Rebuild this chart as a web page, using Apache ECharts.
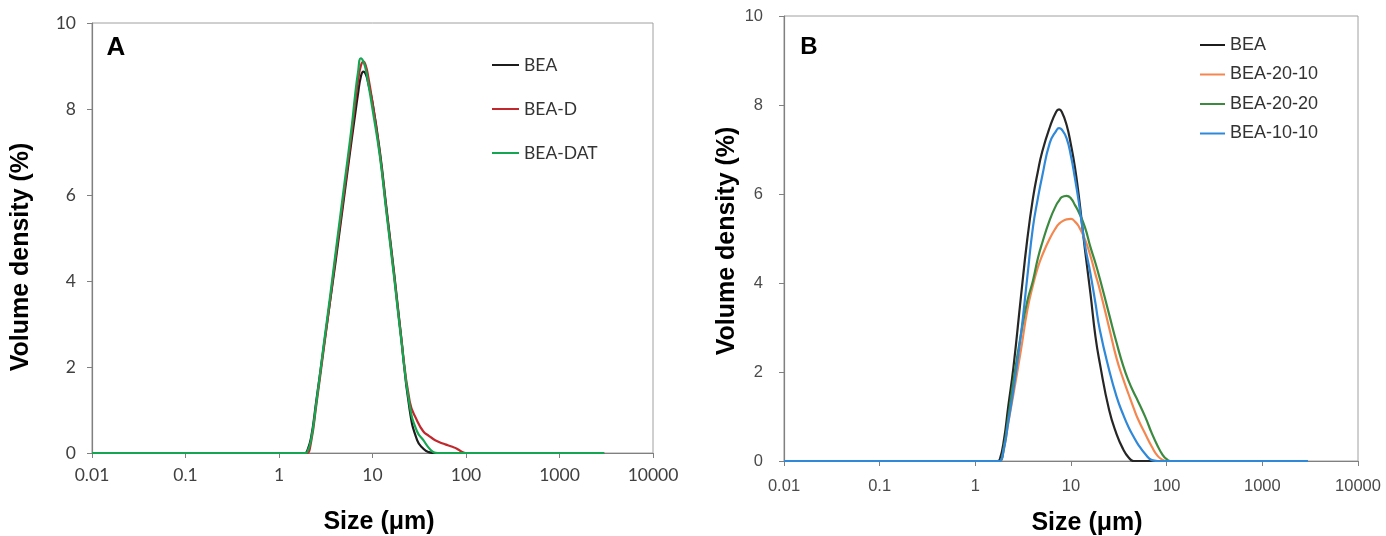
<!DOCTYPE html>
<html>
<head>
<meta charset="utf-8">
<script src="https://cdn.jsdelivr.net/npm/echarts@6/dist/echarts.min.js"></script>
<style>
  html, body { margin: 0; padding: 0; background: #fff; }
  #chart { width: 1386px; height: 536px; }
</style>
</head>
<body>
<div id="chart"></div>
<script>
// x positions (µm), panel A
const sizesA = [0.01, 1.9, 2, 2.2, 2.5, 3, 3.5, 4, 5, 6, 6.5, 7, 7.5, 8, 8.5, 9, 10, 12, 14, 17, 20, 25, 30, 35, 40, 45, 50, 60, 70, 80, 90, 100, 3000];
const beaA   = [0, 0, 0.05, 0.35, 1.2, 2.45, 3.5, 4.4, 6.0, 7.3, 7.85, 8.35, 8.75, 8.87, 8.8, 8.6, 8.15, 7.0, 5.75, 4.2, 2.8, 1.0, 0.3, 0.1, 0.02, 0, 0, 0, 0, 0, 0, 0, 0];
const beaD   = [0, 0, 0, 0.25, 1.1, 2.4, 3.5, 4.5, 6.1, 7.45, 8.1, 8.65, 9.0, 9.1, 9.0, 8.75, 8.15, 6.95, 5.7, 4.15, 2.8, 1.2, 0.75, 0.5, 0.4, 0.32, 0.27, 0.2, 0.15, 0.1, 0.03, 0, 0];
const beaDat = [0, 0, 0.02, 0.3, 1.15, 2.5, 3.6, 4.6, 6.25, 7.6, 8.3, 8.85, 9.18, 9.1, 8.9, 8.6, 8.0, 6.9, 5.65, 4.1, 2.75, 1.1, 0.5, 0.3, 0.12, 0.02, 0, 0, 0, 0, 0, 0, 0];

// x positions (µm), panel B
const sizesB  = [0.01, 1.7, 1.8, 2, 2.2, 2.5, 3, 3.5, 4, 4.5, 5, 6, 7, 7.5, 8, 9, 10, 11, 12, 14, 16, 18, 20, 25, 30, 35, 40, 45, 50, 60, 70, 80, 90, 100, 110, 3000];
const beaB    = [0, 0, 0.03, 0.5, 1.2, 2.1, 3.7, 5.0, 5.9, 6.5, 6.95, 7.5, 7.85, 7.9, 7.85, 7.55, 7.1, 6.6, 6.0, 4.75, 3.75, 2.8, 2.2, 1.15, 0.6, 0.27, 0.08, 0, 0, 0, 0, 0, 0, 0, 0, 0];
const bea2010 = [0, 0, 0, 0.3, 0.83, 1.5, 2.5, 3.4, 3.95, 4.35, 4.62, 5.0, 5.25, 5.33, 5.38, 5.43, 5.44, 5.38, 5.28, 4.98, 4.6, 4.2, 3.85, 3.0, 2.3, 1.85, 1.5, 1.2, 0.95, 0.6, 0.32, 0.12, 0.03, 0, 0, 0];
const bea2020 = [0, 0, 0, 0.35, 0.95, 1.8, 2.85, 3.6, 4.05, 4.55, 4.9, 5.42, 5.75, 5.85, 5.93, 5.96, 5.9, 5.75, 5.6, 5.25, 4.8, 4.45, 4.1, 3.3, 2.65, 2.15, 1.8, 1.55, 1.35, 0.98, 0.62, 0.35, 0.15, 0.04, 0, 0];
const bea1010 = [0, 0, 0, 0.3, 0.85, 1.6, 2.85, 4.15, 5.25, 5.9, 6.4, 7.15, 7.42, 7.48, 7.45, 7.25, 6.85, 6.35, 5.85, 4.85, 4.2, 3.55, 2.95, 2.05, 1.44, 1.05, 0.76, 0.55, 0.38, 0.15, 0.02, 0, 0, 0, 0, 0];

const yTicks = [0, 2, 4, 6, 8, 10];
const namesA = ["BEA", "BEA-D", "BEA-DAT"];
const namesB = ["BEA", "BEA-20-10", "BEA-20-20", "BEA-10-10"];

const chart = echarts.init(document.getElementById("chart"));

const toPairs = (xs, ys) => xs.map((x, i) => [x, ys[i]]);
const fmtLog = v => String(+(+v).toPrecision(3));

const makeX = (idx, font, size, color, margin) => ({
  type: "log",
  gridIndex: idx,
  logBase: 10,
  min: 0.01,
  max: 10000,
  interval: 1,
  axisLine: { lineStyle: { color: "#808080", width: 1.2 } },
  axisTick: { show: true, inside: false, length: 5, lineStyle: { color: "#808080" } },
  axisLabel: { formatter: fmtLog, fontFamily: font, fontSize: size, color: color, margin: margin },
  splitLine: { show: false },
  minorTick: { show: false }
});

const makeY = (idx, font, size, color, margin) => ({
  type: "value",
  gridIndex: idx,
  min: yTicks[0],
  max: yTicks[yTicks.length - 1],
  interval: 2,
  axisLine: { show: true, lineStyle: { color: "#808080", width: 1.2 } },
  axisTick: { show: true, inside: false, length: 5, lineStyle: { color: "#808080" } },
  axisLabel: { fontFamily: font, fontSize: size, color: color, margin: margin },
  splitLine: { show: false }
});

const line = (name, xs, ys, color, idx) => ({
  name: name,
  type: "line",
  xAxisIndex: idx,
  yAxisIndex: idx,
  data: toPairs(xs, ys),
  smooth: 0.5,
  symbol: "none",
  lineStyle: { color: color, width: 2.2 },
  itemStyle: { color: color }
});

const titleFont = "'Liberation Sans', Arial, sans-serif";
const txt = (text, x, y, size, rot) => ({
  type: "text",
  x: x,
  y: y,
  rotation: rot || 0,
  style: {
    text: text,
    font: "bold " + size + "px " + titleFont,
    fill: "#000",
    align: "center",
    verticalAlign: "middle"
  }
});

const option = {
  animation: false,
  backgroundColor: "#fff",
  grid: [
    { left: 92, top: 23, width: 561, height: 430, show: true, borderColor: "#a0a0a0", borderWidth: 1, backgroundColor: "transparent" },
    { left: 784, top: 16, width: 574, height: 445, show: true, borderColor: "#a0a0a0", borderWidth: 1, backgroundColor: "transparent" }
  ],
  xAxis: [
    makeX(0, "Lato, sans-serif", 17.5, "#404040", 13),
    makeX(1, titleFont, 16.5, "#4a4a4a", 17)
  ],
  yAxis: [
    makeY(0, "Lato, sans-serif", 17.5, "#404040", 16),
    makeY(1, titleFont, 16.5, "#4a4a4a", 21)
  ],
  legend: [
    {
      orient: "vertical",
      left: 487,
      top: 50,
      icon: "rect",
      itemWidth: 27,
      itemHeight: 2,
      itemGap: 24,
      data: namesA.map(n => ({ name: n })),
      textStyle: { fontFamily: "Lato, sans-serif", fontSize: 17.5, color: "#333", lineHeight: 20 },
      selectedMode: false
    },
    {
      orient: "vertical",
      left: 1195,
      top: 30,
      icon: "rect",
      itemWidth: 25,
      itemHeight: 2,
      itemGap: 9.5,
      data: namesB.map(n => ({ name: n })),
      textStyle: { fontFamily: titleFont, fontSize: 18, color: "#333", lineHeight: 20 },
      selectedMode: false
    }
  ],
  series: [
    line(namesA[0], sizesA, beaA, "#1c1c1c", 0),
    line(namesA[1], sizesA, beaD, "#c0282d", 0),
    line(namesA[2], sizesA, beaDat, "#14a651", 0),
    line(namesB[0], sizesB, beaB, "#262626", 1),
    line(namesB[1], sizesB, bea2010, "#f4874f", 1),
    line(namesB[2], sizesB, bea2020, "#3b8a3f", 1),
    line(namesB[3], sizesB, bea1010, "#2f88d8", 1)
  ],
  graphic: [
    txt("A", 116, 48, 26),
    txt("B", 809, 47, 24),
    txt("Volume density (%)", 21, 257, 25, Math.PI / 2),
    txt("Size (μm)", 379, 522, 25),
    txt("Volume density (%)", 727, 241, 25, Math.PI / 2),
    txt("Size (μm)", 1087, 523, 25)
  ]
};

chart.setOption(option);
</script>
</body>
</html>
